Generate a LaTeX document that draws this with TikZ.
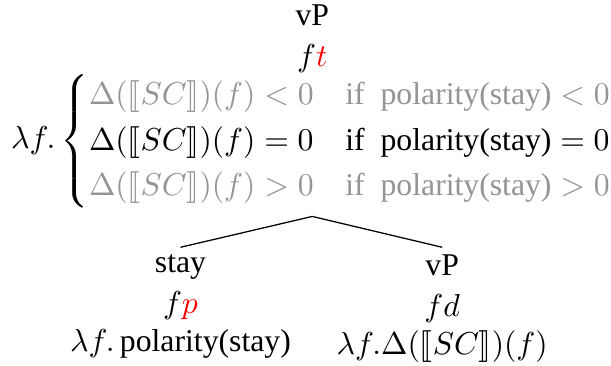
\documentclass[tikz,border=0pt]{standalone}
\usepackage{tikz}
\usepackage{amsmath}
\usepackage{amssymb}
\usepackage{stmaryrd}
\usepackage{xcolor}
\usepackage[no-math]{fontspec}
\setmainfont{Liberation Serif}

\begin{document}
\begin{tikzpicture}[
  thin,  treenode/.style={align=center,inner sep=2pt},  dim/.style={color=black!42}
]
  \useasboundingbox (0,0) rectangle (6.77,-4.05);
  \node[treenode,anchor=north] (root) at (3.46,0.03) {vP\\[1pt] $f{\color{red}t}$\\[-1pt]
    $\lambda f.\begin{cases}
      \color{black!42}\Delta(\llbracket SC\rrbracket)(f)<0 & \color{black!42}\text{if}\ \ \text{polarity(stay)}<0\\
      \Delta(\llbracket SC\rrbracket)(f)=0 & \text{if}\ \ \text{polarity(stay)}=0\\
      \color{black!42}\Delta(\llbracket SC\rrbracket)(f)>0 & \color{black!42}\text{if}\ \ \text{polarity(stay)}>0
    \end{cases}$};
  \node[treenode,anchor=north] (stay) at (2.0,-2.74) {stay\\[1pt] $f{\color{red}p}$\\ $\lambda f.\,\text{polarity(stay)}$};
  \node[treenode,anchor=north] (vp2) at (4.9,-2.74) {vP\\[1pt] $fd$\\ $\lambda f.\Delta(\llbracket SC\rrbracket)(f)$};
  \draw (root.south) -- (stay.north);
  \draw (root.south) -- (vp2.north);
\end{tikzpicture}
\end{document}
